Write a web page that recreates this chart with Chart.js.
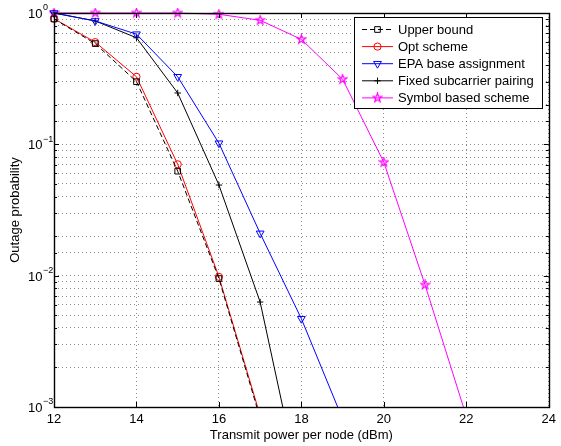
<!DOCTYPE html>
<html>
<head>
<meta charset="utf-8">
<script src="https://cdn.jsdelivr.net/npm/chart.js@4.4.1/dist/chart.umd.min.js"></script>
<style>
  html, body { margin: 0; padding: 0; background: #fff; }
</style>
</head>
<body>
<canvas id="c" width="561" height="446"></canvas>
<script>
// ---------------- DATA ----------------
const powerDbm     = [12, 13, 14, 15, 16, 17, 18, 19, 20, 21, 22];
const upperBound   = [0.90, 0.585, 0.30, 0.0625, 0.0095, 0.00082];
const optScheme    = [0.905, 0.60, 0.327, 0.0705, 0.0098, 0.00086];
const epaBase      = [1.0, 0.87, 0.69, 0.327, 0.102, 0.021, 0.0047, 0.00081];
const fixedPairing = [1.0, 0.87, 0.648, 0.246, 0.049, 0.0063, 0.00022];
const symbolBased  = [1.0, 1.0, 1.0, 1.0, 0.978, 0.88, 0.63, 0.313, 0.073, 0.0085, 0.00085];
const xTicks       = [12, 14, 16, 18, 20, 22, 24];
const yDecades     = [1, 0.1, 0.01, 0.001];

const FONT = "'Liberation Sans', Arial, Helvetica, sans-serif";
const pts = vals => vals.map((v, i) => ({x: powerDbm[i], y: v}));

// pentagram marker (matlab 'p')
function pentagram(color){
  const c = document.createElement('canvas');
  c.width = c.height = 11;
  const g = c.getContext('2d');
  const r = 4.6, ri = r * 0.4, cx = 5.5;
  g.beginPath();
  for (let i = 0; i < 10; i++){
    const a = -Math.PI/2 + i*Math.PI/5, rr = i % 2 ? ri : r;
    g.lineTo(cx + rr*Math.cos(a), cx + rr*Math.sin(a));
  }
  g.closePath();
  g.strokeStyle = color; g.lineWidth = 1.2; g.stroke();
  return c;
}

const clipArea = {left: 6, top: 8, right: 6, bottom: 0};
function series(label, vals, color, style, radius, extra){
  return Object.assign({
    label, data: pts(vals),
    borderColor: color, borderWidth: 1, tension: 0,
    pointStyle: style, pointRadius: radius, pointBorderColor: color,
    pointBackgroundColor: 'rgba(0,0,0,0)', pointBorderWidth: 1,
    clip: clipArea
  }, extra || {});
}

const datasets = [
  series('Upper bound', upperBound, '#000000', 'rect', 4, {borderDash: [5, 3]}),
  series('Opt scheme', optScheme, '#ff0000', 'circle', 3.6),
  series('EPA base assignment', epaBase, '#0000ff', 'triangle', 4.5, {pointRotation: 180}),
  series('Fixed subcarrier pairing', fixedPairing, '#000000', 'cross', 3.2),
  series('Symbol based scheme', symbolBased, '#ff00ff', pentagram('#ff00ff'), 5)
];

// ---------------- PLUGINS ----------------
function seg(ctx, x1, y1, x2, y2){ ctx.beginPath(); ctx.moveTo(x1, y1); ctx.lineTo(x2, y2); ctx.stroke(); }

const framePlugin = {
  id: 'frame',
  afterDatasetsDraw(chart){
    const {ctx, chartArea: a, scales: {x, y}} = chart;
    ctx.save();
    ctx.strokeStyle = '#000'; ctx.lineWidth = 1;
    x.ticks.forEach(t => {
      const px = Math.round(x.getPixelForValue(t.value)) + 0.5;
      seg(ctx, px, a.bottom, px, a.bottom - 5);
      seg(ctx, px, a.top, px, a.top + 5);
    });
    y.ticks.forEach(t => {
      const py = Math.round(y.getPixelForValue(t.value)) + 0.5;
      const major = yDecades.some(d => Math.abs(d - t.value) < d*1e-6);
      const L = major ? 5 : 3;
      seg(ctx, a.left, py, a.left + L, py);
      seg(ctx, a.right, py, a.right - L, py);
    });
    ctx.lineWidth = 1.4;
    ctx.strokeRect(Math.round(a.left) + 0.5, Math.round(a.top) + 0.5,
                   Math.round(a.right - a.left), Math.round(a.bottom - a.top));
    ctx.restore();
  },
  afterDraw(chart){
    const {ctx, scales: {y}} = chart;
    ctx.save();
    ctx.fillStyle = '#000';
    ctx.textBaseline = 'middle';
    ctx.textAlign = 'left';
    // y tick labels 10^n
    yDecades.forEach(v => {
      const py = y.getPixelForValue(v);
      const e = Math.round(Math.log10(v));
      ctx.font = '13px ' + FONT;
      ctx.fillText('10', 28, py + 1.5);
      const w = ctx.measureText('10').width;
      ctx.font = '9px ' + FONT;
      ctx.fillText(e === 0 ? '0' : '\u2212' + (-e), 28 + w + 0.5, py - 5);
    });

    // legend box
    const bx = 354, by = 17, bw = 188, bh = 91;
    ctx.fillStyle = '#fff';
    ctx.fillRect(bx, by, bw, bh);
    ctx.strokeStyle = '#000'; ctx.lineWidth = 1;
    ctx.strokeRect(bx + 0.5, by + 0.5, bw, bh);
    const drawPoint = Chart.helpers && Chart.helpers.drawPoint;
    chart.data.datasets.forEach((ds, i) => {
      const yy = 29.5 + i * 17.1;
      ctx.save();
      ctx.strokeStyle = ds.borderColor; ctx.lineWidth = 1;
      ctx.setLineDash(ds.borderDash || []);
      seg(ctx, 362, yy, 393, yy);
      ctx.restore();
      ctx.save();
      ctx.strokeStyle = ds.borderColor; ctx.fillStyle = 'rgba(0,0,0,0)'; ctx.lineWidth = 1;
      if (drawPoint) drawPoint(ctx, {pointStyle: ds.pointStyle, radius: ds.pointRadius,
                                     rotation: ds.pointRotation || 0, borderWidth: 1}, 377.5, yy);
      ctx.restore();
      ctx.fillStyle = '#000';
      ctx.font = '13px ' + FONT;
      ctx.textBaseline = 'middle';
      ctx.fillText(ds.label, 398, yy + 0.5);
    });
    ctx.restore();
  }
};

// ---------------- CHART ----------------
const gridOpts = {color: 'rgba(0,0,0,0.45)', lineWidth: 1, drawTicks: false};

new Chart(document.getElementById('c'), {
  type: 'line',
  data: {datasets},
  options: {
    responsive: false,
    animation: false,
    devicePixelRatio: 1,
    layout: {padding: {top: 13, right: 8, left: 0, bottom: 0}},
    plugins: {legend: {display: false}, tooltip: {enabled: false}},
    scales: {
      x: {
        type: 'linear', min: 12, max: 24,
        afterBuildTicks: s => { s.ticks = xTicks.map(v => ({value: v})); },
        ticks: {font: {family: FONT, size: 13}, color: '#000', padding: 5, autoSkip: false, maxRotation: 0},
        grid: gridOpts,
        border: {display: false, dash: [1, 3]},
        title: {display: true, text: 'Transmit power per node (dBm)', color: '#000',
                font: {family: FONT, size: 13}, padding: {top: 0, bottom: 3}},
        afterFit: s => { s.height = 39; }
      },
      y: {
        type: 'logarithmic', min: 1e-3, max: 1,
        ticks: {display: false},
        grid: gridOpts,
        border: {display: false, dash: [1, 3]},
        title: {display: true, text: 'Outage probability', color: '#000',
                font: {family: FONT, size: 13}, padding: {top: 8, bottom: 0}},
        afterFit: s => { s.width = 54; }
      }
    }
  },
  plugins: [framePlugin]
});
</script>
</body>
</html>
